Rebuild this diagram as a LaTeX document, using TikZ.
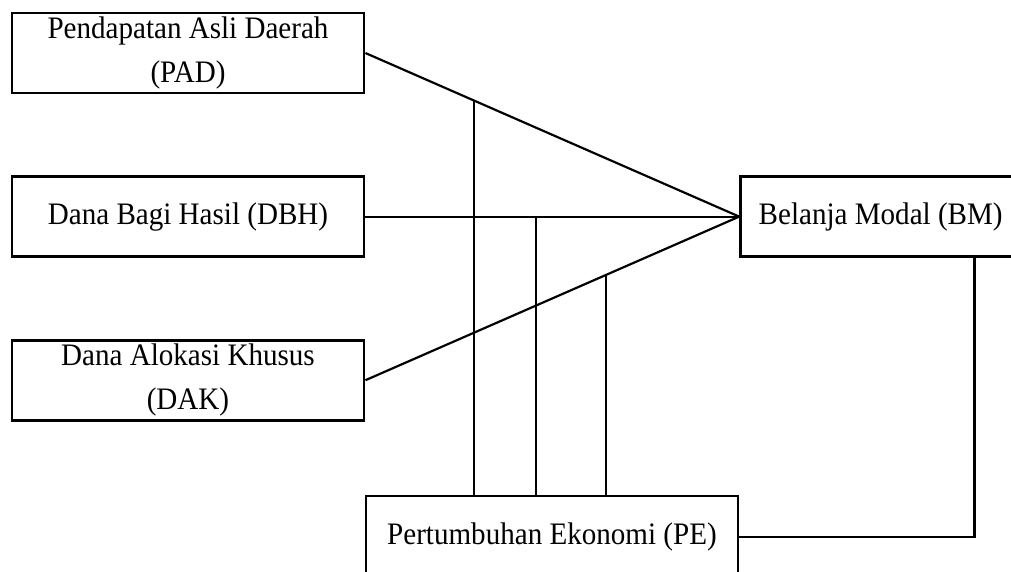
\documentclass[tikz,border=0pt]{standalone}
\usepackage{fontspec}
\setmainfont{Liberation Serif}[FakeStretch=0.93]
\usepackage{tikz}
\usetikzlibrary{calc,positioning}

\begin{document}
\begin{tikzpicture}[
      box/.style={draw=black, line width=1.2pt, minimum height=1.16cm, align=center, inner sep=0pt,
                  font=\fontsize{12.9pt}{18.2pt}\selectfont},
      boxL/.style={box, minimum width=5.104cm},
      link/.style={line width=0.9pt, black}
    ]

    \useasboundingbox (0,0) rectangle (14.66,8.28);

    % -------- LEFT COLUMN --------
    \node[boxL] (pad) at (2.726,7.511) {Pendapatan Asli Daerah\\(PAD)};
    \node[boxL, below=1.17cm of pad] (dbh) {Dana Bagi Hasil (DBH)};
    \node[boxL, below=1.17cm of dbh] (dak) {Dana Alokasi Khusus\\(DAK)};

    % -------- RIGHT / BOTTOM --------
    \node[box, minimum width=4.06cm, right=5.42cm of dbh] (bm) {Belanja Modal (BM)};
    \node[box, minimum width=5.394cm, minimum height=1.19cm] (pe) at (8.004,0.493) {Pertumbuhan Ekonomi (PE)};

    % three lines into BM
    \draw[link] (pad.east) -- (bm.west);
    \draw[link] (dbh.east) -- (bm.west);
    \draw[link] (dak.east) -- (bm.west);

    % drops from each line down to PE
    \coordinate (padHit) at ($(pad.east)!0.29!(bm.west)$);
    \coordinate (dbhHit) at ($(dbh.east)!0.456!(bm.west)$);
    \coordinate (dakHit) at ($(dak.east)!0.643!(bm.west)$);

    \draw[link] (padHit) -- (padHit |- pe.north);
    \draw[link] (dbhHit) -- (dbhHit |- pe.north);
    \draw[link] (dakHit) -- (dakHit |- pe.north);

    % BM -> PE
    \coordinate (bmDrop) at ($(bm.south)+(1.36,0)$);
    \draw[link] (bmDrop) |- (pe.east);

\end{tikzpicture}
\end{document}
